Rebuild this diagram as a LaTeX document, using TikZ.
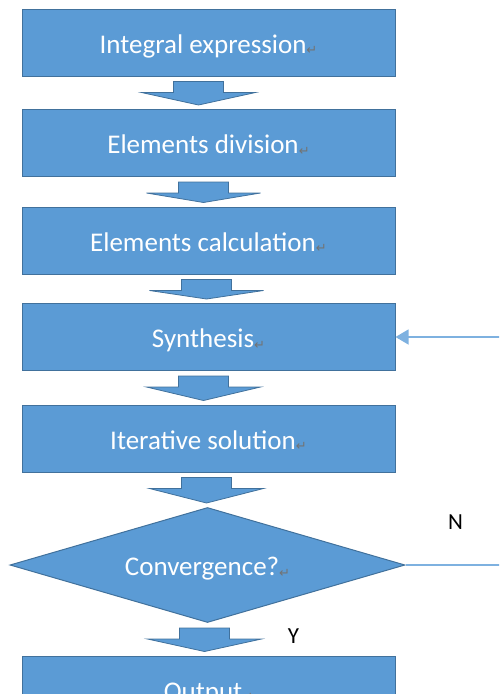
\documentclass[tikz,border=0pt]{standalone}
\usepackage{fontspec}
\setmainfont{Carlito}
\newfontfamily\symfont{DejaVu Sans}
\usetikzlibrary{arrows.meta,positioning,shapes.geometric,calc}

\definecolor{boxfill}{HTML}{5B9BD5}
\definecolor{boxline}{HTML}{41719C}
\definecolor{loopline}{HTML}{7EB1E0}

% little paragraph mark after each label
\newcommand{\retmark}{\raisebox{-1.5pt}{\color{black!55}\symfont\fontsize{13}{13}\selectfont ↵}}

% block arrow between two nodes, optional x offset
\newcommand{\flowarrow}[3][-4]{%
  \draw[blockarrow] ($(#2.south)+(#1-25,-5)$) -- ++(50,0) -- ++(0,-11) -- ++(32,0)
    -- ($(#2.south |- #3.north)+(#1,4)$) -- ($(#2.south)+(#1-57,-16)$) -- ++(32,0) -- cycle;}

\begin{document}
\begin{tikzpicture}[x=1pt, y=1pt, >=latex]
    \tikzset{
      procbox/.style={draw=boxline, fill=boxfill, line width=1pt, minimum width=373pt,
        minimum height=67pt, inner sep=0pt, text=white, font=\fontsize{27}{32}\selectfont,
        text height=25pt, text depth=4pt},
      decision/.style={procbox, diamond, aspect=3.4, minimum width=395pt, minimum height=115pt},
      blockarrow/.style={draw=boxline, fill=boxfill, line width=0.8pt},
      feedback/.style={draw=loopline, line width=1.2pt},
      flag/.style={font=\fontsize{23}{26}\selectfont, text=black}
    }
    \useasboundingbox (0,0) rectangle (499,-694);
    \clip (0,0) rectangle (499,-694);

    \node [procbox] (integral) at (208.5,-42.5) {Integral expression\retmark};
    \node [procbox, below=32.5pt of integral] (division) {Elements division\retmark};
    \node [procbox, below=29.5pt of division] (elemcalc) {Elements calculation\retmark};
    \node [procbox, below=28.5pt of elemcalc] (synth) {Synthesis\retmark};
    \node [procbox, below=33.5pt of synth] (iter) {Iterative solution\retmark};
    \node [decision, below=34.5pt of iter, xshift=-1pt] (conv) {Convergence?\retmark};
    \node [procbox, below=32.5pt of conv, xshift=1pt] (output) {Output\retmark};

    \flowarrow[-10]{integral}{division}
    \flowarrow[-5]{division}{elemcalc}
    \flowarrow[-2]{elemcalc}{synth}
    \flowarrow[-5]{synth}{iter}
    \flowarrow[-2]{iter}{conv}
    \flowarrow[-3]{conv}{output}

    % loop back when not converged
    \draw [feedback, -{Triangle[length=13pt,width=15pt]}] (conv.east) -- ++(110,0) |- (synth.east);
    \node [flag] (nlabel) at ($(conv.east)+(50,43)$) {N};
    \node [flag] (ylabel) at ($(conv.south)+(86,-13)$) {Y};
\end{tikzpicture}
\end{document}
